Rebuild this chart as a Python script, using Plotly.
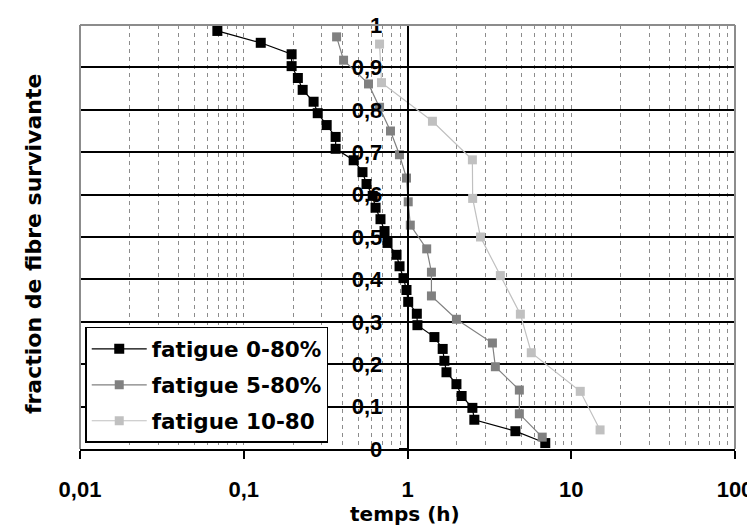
import plotly.graph_objects as go

# ---- data ----
t_0_80 = [0.069, 0.127, 0.196, 0.196, 0.214, 0.229, 0.267, 0.283, 0.321, 0.364, 0.364, 0.469,
          0.531, 0.562, 0.613, 0.638, 0.684, 0.724, 0.755, 0.857, 0.894, 0.945, 0.986, 1.01,
          1.14, 1.15, 1.46, 1.64, 1.68, 1.73, 1.99, 2.14, 2.49, 2.56, 4.56, 6.94]
f_0_80 = [0.986, 0.958, 0.931, 0.903, 0.875, 0.847, 0.819, 0.792, 0.764, 0.736, 0.708, 0.681,
          0.653, 0.625, 0.597, 0.569, 0.542, 0.514, 0.486, 0.458, 0.431, 0.403, 0.375, 0.347,
          0.319, 0.292, 0.264, 0.236, 0.208, 0.181, 0.153, 0.125, 0.097, 0.069, 0.042, 0.014]

t_5_80 = [0.369, 0.407, 0.578, 0.675, 0.787, 0.893, 0.986, 1.01, 1.04, 1.31, 1.40, 1.40,
          1.99, 3.30, 3.44, 4.82, 4.82, 6.65]
f_5_80 = [0.972, 0.917, 0.861, 0.806, 0.750, 0.694, 0.639, 0.583, 0.528, 0.472, 0.417, 0.361,
          0.306, 0.250, 0.194, 0.139, 0.083, 0.028]

t_10_80 = [0.675, 0.694, 1.42, 2.49, 2.50, 2.79, 3.69, 4.89, 5.70, 11.35, 15.0]
f_10_80 = [0.955, 0.864, 0.773, 0.682, 0.591, 0.500, 0.409, 0.318, 0.227, 0.136, 0.045]

series_names = ["fatigue 0-80%", "fatigue 5-80%", "fatigue 10-80"]

x_tickvals = [0.01, 0.1, 1, 10, 100]
x_ticktext = ["0,01", "0,1", "1", "10", "100"]
y_tickvals = [0, 0.1, 0.2, 0.3, 0.4, 0.5, 0.6, 0.7, 0.8, 0.9, 1]
y_ticktext = ["0", "0,1", "0,2", "0,3", "0,4", "0,5", "0,6", "0,7", "0,8", "0,9", "1"]

# minor grid positions (2..9 within each decade)
minor_vals = [k * 10.0 ** e for e in range(-2, 2) for k in range(2, 10)]

colors = ["#000000", "#808080", "#c0c0c0"]
msizes = [10, 9, 9]

fig = go.Figure()
for i, (xs, ys) in enumerate([(t_0_80, f_0_80), (t_5_80, f_5_80), (t_10_80, f_10_80)]):
    fig.add_trace(go.Scatter(
        x=xs, y=ys, mode="lines+markers", name=series_names[i],
        legendgroup="g%d" % i,
        line=dict(color=colors[i], width=1.2),
        marker=dict(symbol="square", size=msizes[i], color=colors[i], line=dict(width=0)),
    ))

tick_font = dict(family="Liberation Sans, Arial, sans-serif", size=22, color="black", weight="bold")
title_font = dict(family="DejaVu Sans, Verdana, sans-serif", size=22, color="black", weight="bold")

# the page body adds an 8px offset: figure is 747x517 so it ends at the window edge
fig.update_layout(
    width=747, height=517,
    margin=dict(l=72, r=20, t=17, b=76),
    plot_bgcolor="white", paper_bgcolor="white",
    showlegend=True,
    legend=dict(
        x=0.008, y=0.288, xanchor="left", yanchor="top",
        bgcolor="white", bordercolor="black", borderwidth=1.5,
        font=dict(family="DejaVu Sans, Verdana, sans-serif", size=21.5, color="black", weight="bold"),
        tracegroupgap=5, itemwidth=55,
    ),
    xaxis=dict(
        type="log", range=[-2, 2], automargin=False,
        tickmode="array", tickvals=x_tickvals, ticktext=x_ticktext,
        tickfont=tick_font,
        ticks="outside", ticklen=8, tickwidth=1.5, tickcolor="black",
        ticklabelstandoff=12,
        showline=True, linecolor="black", linewidth=1.5,
        showgrid=True, gridcolor="#8c8c8c", gridwidth=1, griddash="4px,4px",
        minor=dict(tickmode="array", tickvals=minor_vals, showgrid=True,
                   gridcolor="#8c8c8c", gridwidth=1, griddash="4px,4px", ticks=""),
        zeroline=False,
    ),
    yaxis=dict(
        range=[0, 1], anchor="free", position=0.5, automargin=False,
        tickmode="array", tickvals=y_tickvals, ticktext=y_ticktext,
        tickfont=tick_font,
        ticks="outside", ticklen=8, tickwidth=1.5, tickcolor="black",
        ticklabelstandoff=12,
        showline=True, linecolor="black", linewidth=1.5,
        showgrid=True, gridcolor="black", gridwidth=1.5,
        zeroline=False,
    ),
    annotations=[
        dict(text="fraction de fibre survivante", xref="paper", yref="paper",
             x=-0.072, y=0.483, textangle=-90, showarrow=False,
             xanchor="center", yanchor="middle", font=title_font),
        dict(text="temps (h)", xref="paper", yref="paper",
             x=0.496, y=-0.153, showarrow=False,
             xanchor="center", yanchor="middle",
             font=dict(family="DejaVu Sans, Verdana, sans-serif", size=20, color="black", weight="bold")),
    ],
    shapes=[
        dict(type="line", xref="paper", yref="paper", x0=0, x1=1, y0=1, y1=1,
             line=dict(color="#8c8c8c", width=2), layer="above"),
        dict(type="line", xref="paper", yref="paper", x0=0, x1=0, y0=0, y1=1,
             line=dict(color="#8c8c8c", width=2), layer="above"),
        dict(type="line", xref="paper", yref="paper", x0=1, x1=1, y0=0, y1=1,
             line=dict(color="#8c8c8c", width=2), layer="above"),
    ],
)

fig.write_html("out.html")
